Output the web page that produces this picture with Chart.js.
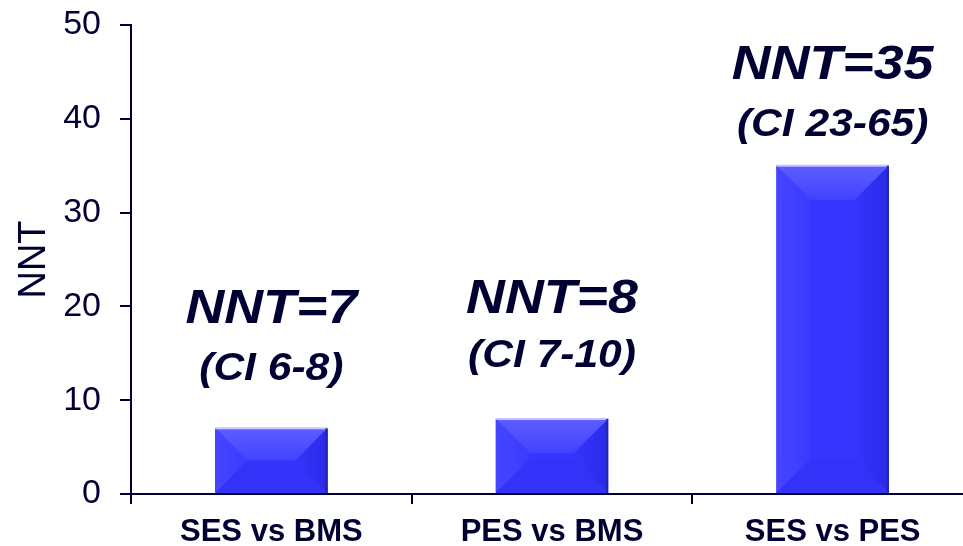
<!DOCTYPE html>
<html>
<head>
<meta charset="utf-8">
<script src="https://cdn.jsdelivr.net/npm/chart.js@4/dist/chart.umd.min.js"></script>
<style>
  html, body { margin: 0; padding: 0; background: #fff; overflow: hidden; }
  #wrap { width: 980px; height: 546px; }
</style>
</head>
<body>
<div id="wrap"><canvas id="nntChart"></canvas></div>
<script>
// Comparisons and their number-needed-to-treat values
const comparisons = ['SES vs BMS', 'PES vs BMS', 'SES vs PES'];
const nntValues = [7, 8, 35];
const nntLabels = ['NNT=7', 'NNT=8', 'NNT=35'];
const ciLabels = ['(CI 6-8)', '(CI 7-10)', '(CI 23-65)'];
const yTicks = [0, 10, 20, 30, 40, 50];

const ink = '#000033';
const font = '"Liberation Sans", Arial, sans-serif';

// Draws the bevelled face on each bar
const bevelBars = {
    id: 'bevelBars',
    afterDatasetsDraw(chart) {
        const ctx = chart.ctx;
        const meta = chart.getDatasetMeta(0);
        meta.data.forEach(bar => {
            const l = bar.x - bar.width / 2, r = bar.x + bar.width / 2;
            const t = bar.y, b = bar.base;
            const d = Math.min(34, (b - t) / 2, bar.width / 2);
            ctx.save();
            ctx.fillStyle = '#3535ff';
            ctx.fillRect(l, t, r - l, b - t);

            const poly = (pts, fill) => {
                ctx.beginPath();
                ctx.moveTo(pts[0][0], pts[0][1]);
                pts.slice(1).forEach(p => ctx.lineTo(p[0], p[1]));
                ctx.closePath();
                ctx.fillStyle = fill;
                ctx.fill();
            };
            const topGrad = ctx.createLinearGradient(0, t, 0, t + d);
            topGrad.addColorStop(0, '#5e5eff');
            topGrad.addColorStop(1, '#4242ff');
            poly([[l, t], [r, t], [r - d, t + d], [l + d, t + d]], topGrad);

            const leftGrad = ctx.createLinearGradient(l, 0, l + d, 0);
            leftGrad.addColorStop(0, '#4646ff');
            leftGrad.addColorStop(1, '#3a3aff');
            poly([[l, t], [l + d, t + d], [l + d, b - d], [l, b]], leftGrad);

            const rightGrad = ctx.createLinearGradient(r - d, 0, r, 0);
            rightGrad.addColorStop(0, '#3434fc');
            rightGrad.addColorStop(1, '#2a2ae8');
            poly([[r, t], [r - d, t + d], [r - d, b - d], [r, b]], rightGrad);

            poly([[l, b], [l + d, b - d], [r - d, b - d], [r, b]], '#3232f8');

            // edge highlights
            ctx.fillStyle = '#c4c4ff';
            ctx.fillRect(l, t - 1, r - l, 2);
            ctx.fillStyle = '#2424b0';
            ctx.fillRect(r - 2, t, 2, b - t);
            ctx.restore();
        });
    }
};

// NNT value and confidence interval written above each bar
const nntText = {
    id: 'nntText',
    afterDraw(chart, args, opts) {
        const ctx = chart.ctx;
        const meta = chart.getDatasetMeta(0);
        meta.data.forEach((bar, i) => {
            ctx.save();
            ctx.fillStyle = ink;
            ctx.textAlign = 'center';
            ctx.textBaseline = 'middle';
            ctx.translate(bar.x, bar.y);
            ctx.scale(opts.stretch, 1);
            ctx.font = 'bold italic 48px ' + font;
            ctx.fillText(nntLabels[i], 0, -opts.nntOffset[i]);
            ctx.font = 'bold italic 38px ' + font;
            ctx.fillText(ciLabels[i], 0, -opts.ciOffset[i]);
            ctx.restore();
        });
    }
};

new Chart(document.getElementById('nntChart'), {
    type: 'bar',
    data: {
        labels: comparisons,
        datasets: [{
            data: nntValues,
            backgroundColor: '#3535ff',
            borderWidth: 0,
            barPercentage: 0.4,
            categoryPercentage: 1
        }]
    },
    options: {
        responsive: true,
        maintainAspectRatio: false,
        animation: false,
        layout: { padding: { top: 25, right: 7, left: 0, bottom: 0 } },
        plugins: {
            legend: { display: false },
            tooltip: { enabled: false },
            nntText: {
                stretch: 1.12,
                nntOffset: [119, 119, 100],
                ciOffset: [59, 62, 40]
            }
        },
        scales: {
            y: {
                min: 0,
                max: 50,
                afterBuildTicks: axis => { axis.ticks = yTicks.map(v => ({ value: v })); },
                afterFit: axis => {
                    axis.width = 131;
                    axis.paddingTop = 0;
                    axis.paddingBottom = 0;
                },
                border: { color: ink, width: 2 },
                grid: { drawOnChartArea: false, drawTicks: true, tickLength: 11, color: ink, lineWidth: 2 },
                ticks: { color: ink, padding: 19, font: { family: font, size: 34 } },
                title: { display: true, text: 'NNT', color: ink, padding: { top: 12, bottom: 0 }, font: { family: font, size: 38 } }
            },
            x: {
                afterFit: axis => {
                    axis.height = 52;
                    axis.paddingLeft = 0;
                    axis.paddingRight = 0;
                },
                border: { color: ink, width: 2 },
                grid: { drawOnChartArea: false, drawTicks: true, tickLength: 10, color: ink, lineWidth: 2 },
                ticks: { color: ink, padding: 10, font: { family: font, size: 31, weight: 'bold' } }
            }
        }
    },
    plugins: [bevelBars, nntText]
});
</script>
</body>
</html>
